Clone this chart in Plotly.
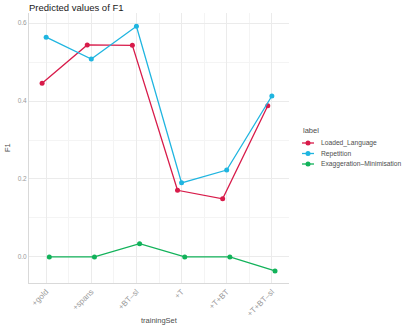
import plotly.graph_objects as go

training_sets = ['+gold', '+spans', '+BT\u2013sl', '+T', '+T+BT', '+T+BT\u2013sl']
labels = ['Loaded_Language', 'Repetition', 'Exaggeration\u2013Minimisation']
colors = ['#d81b4a', '#1fb5e0', '#12b25a']

loaded_language = [0.446, 0.544, 0.543, 0.171, 0.149, 0.388]
repetition = [0.564, 0.508, 0.592, 0.190, 0.223, 0.413]
exaggeration = [0.0, 0.0, 0.034, 0.0, 0.0, -0.036]

series = [loaded_language, repetition, exaggeration]
offsets = [-0.09, 0.0, 0.07]  # dodge like ggplot

W, H = 409, 327
L, R, T, B = 29, 120, 13, 44
pw, ph = W - L - R, H - T - B

def px(x):
    return (x - L) / pw

def py(y):
    return (H - B - y) / ph

fig = go.Figure()
for name, vals, col, off in zip(labels, series, colors, offsets):
    fig.add_trace(go.Scatter(
        x=[i + off for i in range(len(training_sets))], y=vals,
        name=name, mode='lines+markers',
        line=dict(color=col, width=1.3),
        marker=dict(color=col, size=5),
        showlegend=False,
    ))

# legend drawn by hand (ggplot style, fits in the right margin)
fig.add_annotation(text='label', xref='paper', yref='paper', x=px(301), y=py(130),
                   xanchor='left', yanchor='middle', showarrow=False,
                   font=dict(size=7.5, color='#4d4d4d'))
for k, (name, col) in enumerate(zip(labels, colors)):
    yy = 143 + k * 10.5
    fig.add_shape(type='line', xref='paper', yref='paper',
                  x0=px(302), x1=px(314), y0=py(yy), y1=py(yy),
                  line=dict(color=col, width=1.3))
    fig.add_shape(type='circle', xref='paper', yref='paper',
                  xsizemode='pixel', ysizemode='pixel',
                  xanchor=px(308), yanchor=py(yy),
                  x0=-2.5, x1=2.5, y0=-2.5, y1=2.5,
                  fillcolor=col, line=dict(color=col, width=0))
    fig.add_annotation(text=name, xref='paper', yref='paper', x=px(319), y=py(yy),
                       xanchor='left', yanchor='middle', showarrow=False,
                       font=dict(size=6.7, color='#4d4d4d'))

# axis titles
fig.add_annotation(text='trainingSet', xref='paper', yref='paper', x=0.5, y=py(320),
                   xanchor='center', yanchor='middle', showarrow=False,
                   font=dict(size=7.5, color='#4d4d4d'))
fig.add_annotation(text='F1', xref='paper', yref='paper', x=px(7), y=py(148),
                   xanchor='center', yanchor='middle', showarrow=False, textangle=-90,
                   font=dict(size=7.5, color='#4d4d4d'))

grid = '#ebebeb'
fig.update_layout(
    width=W, height=H,
    margin=dict(l=L, r=R, t=T, b=B),
    paper_bgcolor='white', plot_bgcolor='white',
    font=dict(family='Liberation Sans, Arial, sans-serif', size=7, color='#4d4d4d'),
    title=dict(text='Predicted values of F1', x=L / W, xanchor='left',
               y=1 - 8 / H, yanchor='middle',
               font=dict(size=9.5, color='#1a1a1a')),
    showlegend=False,
)
fig.update_xaxes(
    range=[-0.38, 5.38], automargin=False,
    tickmode='array', tickvals=list(range(len(training_sets))), ticktext=training_sets,
    tickangle=-45, tickfont=dict(size=8, color='#999999'),
    showgrid=True, gridcolor=grid, gridwidth=1,
    minor=dict(tickmode='array', tickvals=[i + 0.5 for i in range(-1, 6)],
               showgrid=True, gridcolor='#f4f4f4', gridwidth=0.6),
    showline=True, linecolor='#d9d9d9', linewidth=1,
    ticks='', zeroline=False,
)
fig.update_yaxes(
    range=[-0.067, 0.626], automargin=False,
    tickmode='array', tickvals=[0.0, 0.2, 0.4, 0.6], ticktext=['0.0', '0.2', '0.4', '0.6'],
    tickfont=dict(size=6.5, color='#999999'),
    showgrid=True, gridcolor=grid, gridwidth=1,
    minor=dict(tickmode='array', tickvals=[-0.1, 0.1, 0.3, 0.5], showgrid=True,
               gridcolor='#f4f4f4', gridwidth=0.6),
    showline=True, linecolor='#d9d9d9', linewidth=1,
    ticks='', zeroline=False,
)

# the page's default body margin would shift the figure by 8px
fig.write_html("out.html", config={'displayModeBar': False},
               post_script="document.body.style.margin='0px';")
